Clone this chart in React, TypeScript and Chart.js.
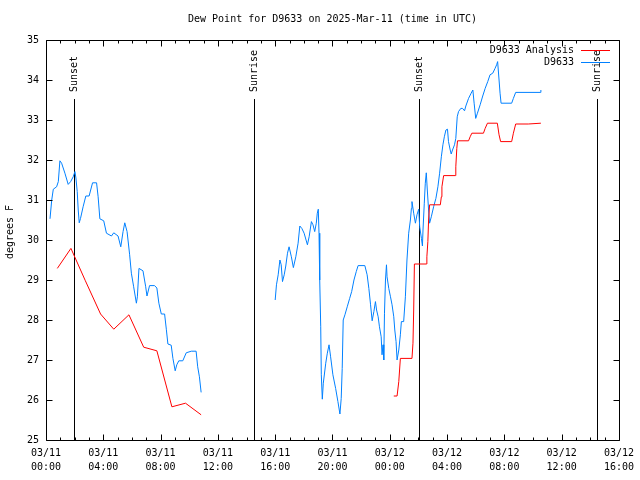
import React, { useEffect, useRef } from 'react';
import { Chart, registerables } from 'chart.js';

Chart.register(...registerables);

const titleText = 'Dew Point for D9633 on 2025-Mar-11 (time in UTC)';
const yAxisTitle = 'degrees F';

const xTickDates = ['03/11', '03/11', '03/11', '03/11', '03/11', '03/11', '03/12', '03/12', '03/12', '03/12', '03/12'];
const xTickTimes = ['00:00', '04:00', '08:00', '12:00', '16:00', '20:00', '00:00', '04:00', '08:00', '12:00', '16:00'];

const analysisLabel = 'D9633 Analysis';
const obsLabel = 'D9633';

// hours since 03/11 00:00 UTC
const analysisHours = [
  0.79, 1.74, 2.75, 3.81, 4.73, 5.79, 6.82, 7.74, 8.79, 9.74, 10.83,
  17,
  24.28, 24.51, 24.63, 24.74, 25.55, 25.62, 25.67, 25.72, 26.55, 26.59, 26.66, 26.71, 26.78,
  27.53, 27.6, 27.64, 27.76, 28.57, 28.61, 28.68, 28.73, 29.5, 29.61, 29.73, 30.54, 30.66,
  30.82, 31.51, 31.63, 31.74, 32.51, 32.63, 32.79, 33.67, 34.55,
];
const analysisValues = [
  29.29, 29.79, 28.98, 28.15, 27.77, 28.13, 27.32, 27.23, 25.83, 25.92, 25.63,
  null,
  26.1, 26.1, 26.46, 27.04, 27.04, 27.42, 28.25, 29.4, 29.4, 29.58, 29.96, 30.5, 30.88,
  30.88, 31.08, 31.33, 31.61, 31.61, 31.83, 32.29, 32.48, 32.48, 32.58, 32.67, 32.67, 32.79,
  32.92, 32.92, 32.63, 32.46, 32.46, 32.67, 32.9, 32.9, 32.92,
];

const obsHours = [
  0.28, 0.4, 0.51, 0.74, 0.86, 0.97, 1.09, 1.32, 1.55, 1.72, 1.9, 2.02, 2.09, 2.18, 2.25, 2.32,
  2.41, 2.59, 2.78, 3.01, 3.25, 3.53, 3.64, 3.76, 4.03, 4.22, 4.57, 4.73, 5.03, 5.22, 5.38, 5.5,
  5.66, 5.84, 5.96, 6.12, 6.31, 6.38, 6.49, 6.77, 6.96, 7.05, 7.23, 7.58, 7.74, 7.88, 8.05, 8.28,
  8.4, 8.51, 8.74, 8.86, 9.02, 9.13, 9.27, 9.55, 9.79, 10.14, 10.48, 10.59, 10.71, 10.83,
  13,
  16.0, 16.09, 16.21, 16.33, 16.42, 16.51, 16.63, 16.74, 16.86, 16.97, 17.13, 17.27, 17.44, 17.6,
  17.72, 17.86, 18.02, 18.25, 18.37, 18.53, 18.64, 18.76, 18.87, 18.94, 19.01, 19.06, 19.11, 19.18,
  19.22, 19.29, 19.36, 19.53, 19.64, 19.76, 19.87, 20.03, 20.22, 20.38, 20.52, 20.61, 20.68, 20.75,
  20.87, 21.03, 21.2, 21.34, 21.5, 21.66, 21.79, 22.26, 22.42, 22.54, 22.66, 22.77, 22.89, 23.0,
  23.08, 23.19, 23.28, 23.4, 23.46, 23.53, 23.58, 23.63, 23.7, 23.77, 23.81, 23.93, 24.05, 24.16,
  24.28, 24.35, 24.44, 24.51, 24.63, 24.74, 24.81, 24.97, 25.09, 25.2, 25.32, 25.44, 25.51, 25.55,
  25.67, 25.79, 25.9, 26.02, 26.09, 26.21, 26.28, 26.32, 26.41, 26.48, 26.55, 26.62, 26.71, 26.78,
  26.9, 27.06, 27.22, 27.36, 27.48, 27.6, 27.71, 27.81, 27.92, 28.03, 28.1, 28.22, 28.29, 28.38,
  28.52, 28.61, 28.71, 28.8, 28.96, 29.08, 29.22, 29.31, 29.5, 29.68, 29.8, 29.89, 30.0, 30.12,
  30.31, 30.49, 30.66, 30.84, 31.0, 31.19, 31.35, 31.46, 31.53, 31.63, 31.7, 31.77, 32.51, 32.63,
  32.79, 34.5, 34.55,
];
const obsValues = [
  30.53, 31.0, 31.27, 31.33, 31.46, 31.98, 31.92, 31.67, 31.39, 31.46, 31.58, 31.71, 31.55, 31.21, 30.75, 30.43,
  30.54, 30.83, 31.1, 31.1, 31.43, 31.43, 31.08, 30.53, 30.48, 30.17, 30.1, 30.18, 30.1, 29.83, 30.21, 30.43,
  30.21, 29.63, 29.17, 28.83, 28.42, 28.58, 29.29, 29.23, 28.83, 28.6, 28.86, 28.86, 28.8, 28.42, 28.15, 28.15,
  27.77, 27.4, 27.37, 27.04, 26.73, 26.88, 26.98, 26.98, 27.18, 27.22, 27.22, 26.83, 26.58, 26.19,
  null,
  28.5, 28.88, 29.13, 29.5, 29.38, 28.96, 29.13, 29.35, 29.67, 29.83, 29.58, 29.31, 29.58, 29.92,
  30.35, 30.29, 30.17, 29.88, 30.08, 30.46, 30.38, 30.21, 30.42, 30.67, 30.77, 30.17, 29.0, 27.83,
  26.63, 26.02, 26.42, 26.92, 27.17, 27.38, 27.08, 26.63, 26.29, 25.96, 25.65, 26.04, 26.79, 28.0,
  28.13, 28.33, 28.54, 28.71, 29.0, 29.21, 29.36, 29.36, 29.13, 28.79, 28.38, 27.98, 28.21, 28.46,
  28.25, 28.08, 27.83, 27.58, 27.13, 27.38, 27.0, 28.17, 29.0, 29.38, 29.08, 28.79, 28.58, 28.38,
  28.08, 27.75, 27.46, 27.0, 27.25, 27.63, 27.96, 27.96, 28.58, 29.5, 30.17, 30.5, 30.79, 30.96,
  30.67, 30.42, 30.63, 30.77, 30.33, 30.04, 29.85, 30.25, 30.92, 31.42, 31.68, 31.25, 30.75, 30.42,
  30.58, 30.83, 31.04, 31.33, 31.67, 32.08, 32.38, 32.58, 32.75, 32.77, 32.46, 32.25, 32.15, 32.25,
  32.38, 32.54, 33.08, 33.21, 33.29, 33.29, 33.23, 33.35, 33.54, 33.67, 33.75, 33.42, 33.04, 33.17,
  33.38, 33.6, 33.79, 33.96, 34.13, 34.17, 34.29, 34.38, 34.46, 34.0, 33.67, 33.42, 33.42, 33.54,
  33.69, 33.69, 33.75,
];

const eventHours = [1.97, 14.5, 26.04, 38.47];
const eventLabels = ['Sunset', 'Sunrise', 'Sunset', 'Sunrise'];

const FONT_FAMILY = '"DejaVu Sans Mono", monospace';
const FONT = `10px ${FONT_FAMILY}`;

const decorPlugin = {
  id: 'gnuplotDecor',
  beforeDatasetsDraw(chart: any) {
    const { ctx, chartArea, scales } = chart;
    const xs = scales.x;
    ctx.save();
    ctx.strokeStyle = '#000';
    ctx.lineWidth = 1;
    ctx.fillStyle = '#000';
    ctx.font = FONT;
    eventHours.forEach((h, i) => {
      const px = Math.round(xs.getPixelForValue(h)) + 0.5;
      ctx.beginPath();
      ctx.moveTo(px, chartArea.top + 59);
      ctx.lineTo(px, chartArea.bottom);
      ctx.stroke();
      ctx.save();
      ctx.translate(px, chartArea.top + 52);
      ctx.rotate(-Math.PI / 2);
      ctx.textAlign = 'left';
      ctx.textBaseline = 'middle';
      ctx.fillText(eventLabels[i], 0, 0);
      ctx.restore();
    });
    ctx.restore();
  },
  afterDraw(chart: any) {
    const { ctx, chartArea, scales } = chart;
    const xs = scales.x;
    const ys = scales.y;
    const L = Math.round(chartArea.left) + 0.5;
    const R = Math.round(chartArea.right) + 0.5;
    const T = Math.round(chartArea.top) + 0.5;
    const B = Math.round(chartArea.bottom) + 0.5;
    ctx.save();
    ctx.strokeStyle = '#000';
    ctx.lineWidth = 1;
    ctx.beginPath();
    ctx.rect(L, T, R - L, B - T);
    ctx.stroke();
    // x ticks hourly, majors every 4 h
    ctx.beginPath();
    for (let h = 0; h <= 40; h++) {
      const px = Math.round(xs.getPixelForValue(h)) + 0.5;
      const len = h % 4 === 0 ? 6 : 3;
      ctx.moveTo(px, B);
      ctx.lineTo(px, B - len);
      ctx.moveTo(px, T);
      ctx.lineTo(px, T + len);
    }
    for (let v = 25; v <= 35; v++) {
      const py = Math.round(ys.getPixelForValue(v)) + 0.5;
      ctx.moveTo(L, py);
      ctx.lineTo(L + 6, py);
      ctx.moveTo(R, py);
      ctx.lineTo(R - 6, py);
    }
    ctx.stroke();

    ctx.fillStyle = '#000';
    ctx.font = FONT;
    // title
    ctx.textAlign = 'center';
    ctx.textBaseline = 'middle';
    ctx.fillText(titleText, (chartArea.left + chartArea.right) / 2, 19);
    // y axis title
    ctx.save();
    ctx.translate(10, 232);
    ctx.rotate(-Math.PI / 2);
    ctx.textAlign = 'center';
    ctx.textBaseline = 'middle';
    ctx.fillText(yAxisTitle, 0, 0);
    ctx.restore();
    // legend
    chart.data.datasets.forEach((ds: any, i: number) => {
      const y = 50 + i * 12;
      ctx.textAlign = 'right';
      ctx.textBaseline = 'middle';
      ctx.fillStyle = '#000';
      ctx.fillText(ds.label, 574, y);
      ctx.strokeStyle = ds.borderColor;
      ctx.beginPath();
      ctx.moveTo(581, y + 0.5);
      ctx.lineTo(610, y + 0.5);
      ctx.stroke();
    });
    ctx.restore();
  },
};

export default function App() {
  const ref = useRef<HTMLCanvasElement | null>(null);
  useEffect(() => {
    if (!ref.current) return;
    const chart = new Chart(ref.current, {
      type: 'line',
      data: {
        datasets: [
          {
            label: analysisLabel,
            data: analysisHours.map((h, i) => ({ x: h, y: analysisValues[i] })) as any,
            borderColor: '#ff0000',
            borderWidth: 1,
            pointRadius: 0,
            tension: 0,
            spanGaps: false,
          },
          {
            label: obsLabel,
            data: obsHours.map((h, i) => ({ x: h, y: obsValues[i] })) as any,
            borderColor: 'rgb(0,128,255)',
            borderWidth: 1,
            pointRadius: 0,
            tension: 0,
            spanGaps: false,
          },
        ],
      },
      options: {
        animation: false,
        responsive: false,
        devicePixelRatio: 1,
        layout: { padding: { top: 40, right: 19, left: 0, bottom: 0 } },
        plugins: {
          legend: { display: false },
          title: { display: false },
          tooltip: { enabled: false },
        },
        scales: {
          x: {
            type: 'linear',
            min: 0,
            max: 40,
            grid: { display: false, drawTicks: false },
            border: { display: false },
            ticks: {
              stepSize: 4,
              autoSkip: false,
              maxRotation: 0,
              minRotation: 0,
              padding: 6,
              color: '#000',
              font: { family: FONT_FAMILY, size: 10, lineHeight: 1.4 },
              callback: (v: any) => {
                const i = Math.round(Number(v) / 4);
                return [xTickDates[i], xTickTimes[i]];
              },
            },
            afterFit: (s: any) => {
              s.height = 40;
            },
          },
          y: {
            type: 'linear',
            min: 25,
            max: 35,
            grid: { display: false, drawTicks: false },
            border: { display: false },
            ticks: {
              stepSize: 1,
              padding: 7,
              color: '#000',
              font: { family: FONT_FAMILY, size: 10 },
            },
            afterFit: (s: any) => {
              s.width = 46;
            },
          },
        },
      } as any,
      plugins: [decorPlugin],
    });
    return () => chart.destroy();
  }, []);
  return (
    <div style={{ position: 'fixed', left: 0, top: 0, width: 640, height: 480, background: '#fff' }}>
      <canvas ref={ref} width={640} height={480} style={{ width: 640, height: 480 }} />
    </div>
  );
}
